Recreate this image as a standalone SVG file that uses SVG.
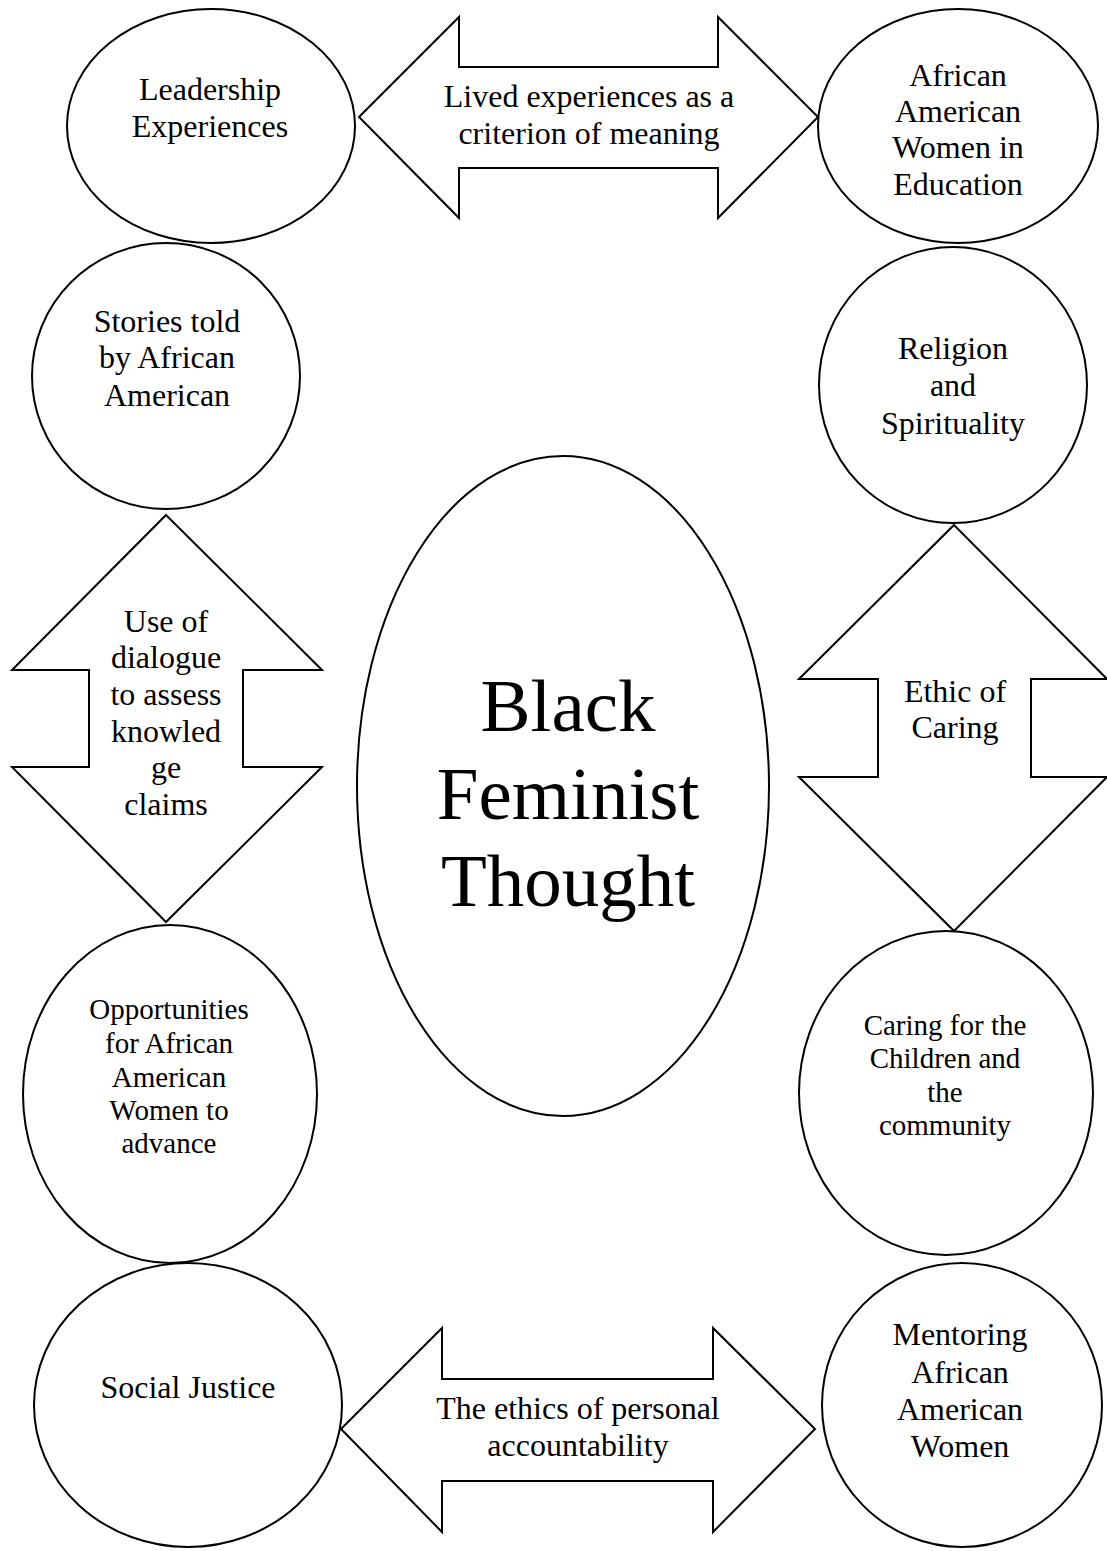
<svg xmlns="http://www.w3.org/2000/svg" width="1107" height="1551" viewBox="0 0 1107 1551">
<style>
.shape{fill:#fff;stroke:#000;stroke-width:2}
.t{font-family:"Liberation Serif","Times New Roman",serif;font-size:32px;fill:#000;text-anchor:middle}
.s{font-size:29px}
.big{font-size:75px}
</style>
<rect width="1107" height="1551" fill="#fff"/>
<g id="connectors">
<g id="arrow-top">
<polygon class="shape" points="359,117 459,17 459,67 718,67 718,17 818,117 718,218 718,168 459,168 459,218"/>
<text class="t" x="589" y="107">Lived experiences as a</text>
<text class="t" x="589" y="144">criterion of meaning</text>
</g>
<g id="arrow-left">
<polygon class="shape" points="166,515 322,670 243,670 243,767 322,767 166,922 12,767 89,767 89,670 12,670"/>
<text class="t" x="166" y="632">Use of</text>
<text class="t" x="166" y="668">dialogue</text>
<text class="t" x="166" y="705">to assess</text>
<text class="t" x="166" y="742">knowled</text>
<text class="t" x="166" y="778">ge</text>
<text class="t" x="166" y="815">claims</text>
</g>
<g id="arrow-right">
<polygon class="shape" points="954,525 1107,679 1031,679 1031,777 1107,777 954,931 799,777 878,777 878,679 799,679"/>
<text class="t" x="955" y="702">Ethic of</text>
<text class="t" x="955" y="738">Caring</text>
</g>
<g id="arrow-bottom">
<polygon class="shape" points="341,1429 442,1328 442,1379 713,1379 713,1328 815,1429 713,1532 713,1481 442,1481 442,1532"/>
<text class="t" x="578" y="1419">The ethics of personal</text>
<text class="t" x="578" y="1456">accountability</text>
</g>
</g>
<g id="node-leadership">
<ellipse class="shape" cx="211" cy="126" rx="144" ry="117"/>
<text class="t" x="210" y="100">Leadership</text>
<text class="t" x="210" y="137">Experiences</text>
</g>
<g id="node-education">
<ellipse class="shape" cx="958" cy="126" rx="140" ry="117"/>
<text class="t" x="958" y="86">African</text>
<text class="t" x="958" y="122">American</text>
<text class="t" x="958" y="158">Women in</text>
<text class="t" x="958" y="195">Education</text>
</g>
<g id="node-stories">
<ellipse class="shape" cx="166" cy="376" rx="134" ry="133"/>
<text class="t" x="167" y="332">Stories told</text>
<text class="t" x="167" y="368">by African</text>
<text class="t" x="167" y="406">American</text>
</g>
<g id="node-religion">
<ellipse class="shape" cx="953" cy="385" rx="134" ry="138"/>
<text class="t" x="953" y="359">Religion</text>
<text class="t" x="953" y="396">and</text>
<text class="t" x="953" y="434">Spirituality</text>
</g>
<g id="node-center">
<ellipse class="shape" cx="563" cy="786" rx="206" ry="330"/>
<text class="t big" x="568" y="731">Black</text>
<text class="t big" x="568" y="819">Feminist</text>
<text class="t big" x="568" y="906">Thought</text>
</g>
<g id="node-opportunities">
<ellipse class="shape" cx="170" cy="1094" rx="147" ry="169"/>
<text class="t s" x="169" y="1019">Opportunities</text>
<text class="t s" x="169" y="1053">for African</text>
<text class="t s" x="169" y="1087">American</text>
<text class="t s" x="169" y="1120">Women to</text>
<text class="t s" x="169" y="1153">advance</text>
</g>
<g id="node-caring">
<ellipse class="shape" cx="946" cy="1093" rx="147" ry="162"/>
<text class="t s" x="945" y="1035">Caring for the</text>
<text class="t s" x="945" y="1068">Children and</text>
<text class="t s" x="945" y="1102">the</text>
<text class="t s" x="945" y="1135">community</text>
</g>
<g id="node-justice">
<ellipse class="shape" cx="188" cy="1405" rx="154" ry="142"/>
<text class="t" x="188" y="1398">Social Justice</text>
</g>
<g id="node-mentoring">
<ellipse class="shape" cx="962" cy="1405" rx="140" ry="142"/>
<text class="t" x="960" y="1345">Mentoring</text>
<text class="t" x="960" y="1383">African</text>
<text class="t" x="960" y="1420">American</text>
<text class="t" x="960" y="1457">Women</text>
</g>
</svg>
